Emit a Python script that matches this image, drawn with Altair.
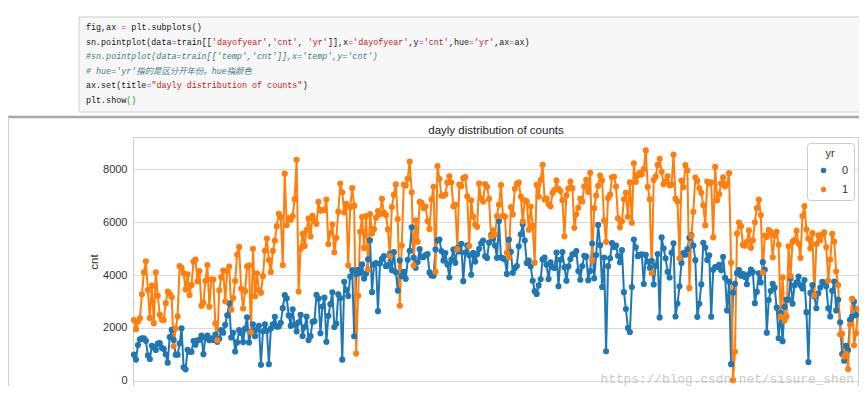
import altair as alt
import pandas as pd

# ---------------- data (daily counts) ----------------
cnt_yr0 = [
    # Jan
    985, 801, 1349, 1562, 1600, 1606, 1510, 959, 822, 1321, 1263, 1162, 1406, 1421, 1248, 1204,
    1000, 683, 1650, 1927, 1543, 981, 986, 1416, 1985, 506, 431, 1167, 1098, 1096, 1501,
    # Feb
    1360, 1526, 1550, 1708, 1005, 1623, 1712, 1530, 1605, 1538, 1746, 1472, 1589, 1913, 1815,
    2115, 2475, 2927, 1635, 1812, 1107, 1450, 1917, 1807, 1461, 1969, 2402, 1446,
    # Mar
    1851, 2134, 1685, 1944, 2077, 605, 1872, 2133, 1891, 623, 1977, 2132, 2417, 2046, 2056, 2192,
    2744, 3239, 3117, 2471, 2077, 2703, 2121, 1865, 2210, 2496, 1693, 2028, 2425, 1536, 1685,
    # Apr
    2227, 2252, 3249, 3115, 1795, 2808, 3141, 1471, 2455, 2895, 3348, 2034, 2162, 3267, 3126,
    795, 3744, 3429, 3204, 3944, 4189, 1683, 4036, 4191, 4073, 4400, 3872, 4058, 4595, 5312,
    # May
    3351, 4401, 4451, 2633, 4433, 4608, 4714, 4333, 4362, 4803, 4182, 4864, 4105, 3409, 4553,
    3958, 4123, 3855, 4575, 4917, 5805, 4660, 4274, 4492, 4978, 4677, 4679, 4758, 4788, 4098, 3982,
    # Jun
    3974, 4968, 5312, 5342, 4906, 4548, 4833, 4401, 3915, 4586, 4966, 4460, 5020, 4891, 5180,
    3767, 4844, 5119, 4744, 4010, 4835, 4507, 4790, 4991, 5202, 5305, 4708, 4648, 5225, 5515,
    # Jul
    5362, 5119, 4649, 6043, 4665, 4629, 4592, 4040, 5336, 4881, 4086, 4258, 4342, 5084, 5538,
    5923, 5302, 4458, 4541, 4332, 3784, 3387, 3285, 3606, 3840, 4590, 4656, 4390, 3846, 4475, 4302,
    # Aug
    4266, 4845, 3574, 4576, 4866, 4294, 3785, 4326, 4602, 4780, 4792, 4905, 4150, 3820, 4338,
    4725, 4694, 3805, 4153, 5191, 3873, 4758, 5895, 5130, 3542, 4661, 1115, 4334, 4634, 5204, 5058,
    # Sep
    5115, 4727, 4484, 4940, 3351, 2710, 1996, 1842, 3544, 5345, 5046, 4713, 4763, 4785, 3659,
    4760, 4511, 4274, 4539, 3641, 4352, 4795, 2395, 5423, 5010, 4630, 4120, 3907, 4839, 5202,
    # Oct
    2429, 2918, 3570, 4456, 4826, 4765, 4985, 5409, 5511, 5117, 4563, 2416, 2913, 3644, 5217,
    5041, 4570, 4748, 2424, 4195, 4304, 4308, 4381, 4187, 4687, 3894, 2659, 3747, 627, 3331, 3669,
    # Nov
    4068, 4186, 3974, 4046, 3926, 3649, 4035, 4205, 4109, 2933, 3368, 4067, 3717, 4486, 4195,
    1817, 3053, 3392, 3663, 3520, 2765, 1607, 2566, 1495, 2792, 3068, 3071, 3867, 2914, 3613,
    # Dec
    3727, 3940, 3614, 3485, 3811, 2594, 705, 3322, 3620, 3190, 2743, 3310, 3523, 3740, 3709,
    3577, 2739, 2431, 3403, 3750, 2660, 3068, 2209, 1011, 754, 1317, 1162, 2302, 2423, 2999, 2485,
]

cnt_yr1 = [
    # Jan
    2294, 1951, 2236, 2368, 3272, 4098, 4521, 3425, 2376, 3598, 2177, 4097, 3214, 2493, 2311,
    2298, 2935, 3376, 3292, 3163, 1301, 1977, 2432, 4339, 4270, 4075, 3456, 4023, 3243, 3624, 4509,
    # Feb
    4579, 3761, 4151, 2832, 2947, 3784, 4375, 2802, 3830, 3831, 2169, 1529, 3422, 3922, 4169,
    3005, 4154, 4318, 2689, 3129, 3777, 4773, 5062, 3487, 2732, 3389, 4322, 4363, 1834,
    # Mar
    4990, 3194, 4066, 3423, 3333, 3956, 4916, 5382, 4569, 4118, 4911, 5298, 5847, 6312, 6192,
    4378, 7836, 5892, 6153, 6093, 6230, 6871, 8362, 3372, 4996, 5558, 5102, 5698, 6133, 5459, 6235,
    # Apr
    6041, 5936, 6772, 6436, 6457, 6460, 6857, 5169, 5585, 5918, 4862, 5409, 6398, 7460, 7132,
    6370, 6691, 4367, 6565, 7290, 6624, 1027, 3214, 5633, 6196, 5026, 6233, 4220, 6304, 5572,
    # May
    5740, 6169, 6421, 6296, 6883, 6359, 6273, 5728, 4717, 6572, 7030, 7429, 6118, 2843, 5115,
    7424, 7384, 7639, 8294, 7129, 4359, 6073, 5260, 6770, 6734, 6536, 6591, 6043, 5743, 6855, 7338,
    # Jun
    4127, 8120, 7641, 6998, 7001, 7055, 7494, 7736, 7498, 6598, 6664, 4972, 7421, 7363, 7665,
    7702, 6978, 5099, 6825, 6211, 5905, 5823, 7458, 6891, 6779, 7442, 7335, 6879, 5463, 5687,
    # Jul
    5531, 6227, 6660, 7403, 6241, 6207, 4840, 4672, 6569, 6290, 7264, 7446, 7499, 6969, 6031,
    6830, 6786, 5713, 6591, 5870, 4459, 7410, 6966, 7592, 8173, 6861, 6904, 6685, 6597, 7105, 7216,
    # Aug
    7580, 7261, 7175, 6824, 5464, 7013, 7273, 7534, 7286, 5786, 6299, 6544, 6883, 6784, 7347,
    7605, 7148, 7865, 4549, 6530, 7006, 7375, 7765, 7582, 6053, 5255, 6917, 7040, 7697, 7713, 7350,
    # Sep
    6140, 5810, 6034, 6864, 7112, 6203, 7504, 5976, 8227, 7525, 7767, 7870, 7804, 8009, 8714,
    7333, 6869, 4073, 7591, 7720, 8167, 8395, 7907, 7436, 7538, 7733, 7393, 7415, 8555, 6889,
    # Oct
    6778, 4639, 7572, 7328, 8156, 7965, 3510, 5478, 6392, 7691, 7570, 7282, 7109, 6639, 5875,
    7534, 7461, 7509, 5424, 8090, 6824, 7058, 7466, 7693, 7359, 7444, 7852, 4459, 22, 1096, 5566,
    # Nov
    5986, 5847, 5138, 5107, 5259, 5686, 5035, 5315, 5992, 6536, 6852, 6269, 4094, 5495, 5445,
    5698, 5629, 4669, 5499, 5634, 5146, 2425, 3910, 2277, 2424, 5087, 3959, 5260, 5323, 5668,
    # Dec
    5191, 4649, 6234, 6606, 5729, 5375, 5008, 5582, 3228, 5170, 5501, 5319, 5532, 5611, 5047,
    3786, 4585, 5557, 5267, 4128, 3623, 1749, 1787, 920, 1013, 441, 2114, 3095, 1341, 1796, 2729,
]

hue_levels = ["0", "1"]
hue_colors = ["#1f77b4", "#ff7f0e"]
y_ticks = [0, 2000, 4000, 6000, 8000]
chart_title = "dayly distribution of counts"
watermark = "https://blog.csdn.net/sisure_shen"

# notebook code cell shown above the figure: (text, kind) segments per line
code_lines = [
    [("fig,ax ", "k"), ("=", "op"), (" plt.subplots()", "k")],
    [("sn.pointplot(data", "k"), ("=", "op"), ("train[[", "k"), ("'dayofyear'", "s"), (",", "k"),
     ("'cnt'", "s"), (", ", "k"), ("'yr'", "s"), ("]],x", "k"), ("=", "op"), ("'dayofyear'", "s"),
     (",y", "k"), ("=", "op"), ("'cnt'", "s"), (",hue", "k"), ("=", "op"), ("'yr'", "s"),
     (",ax", "k"), ("=", "op"), ("ax)", "k")],
    [("#sn.pointplot(data=train[['temp','cnt']],x='temp',y='cnt')", "c")],
    [("# hue='yr'指的是区分开年份。hue指颜色", "c")],
    [("ax.set(title", "k"), ("=", "op"), ('"dayly distribution of counts"', "s"), (")", "k")],
    [("plt.show", "k"), ("()", "br")],
]
kind_colors = {"k": "#111111", "op": "#aa22ff", "s": "#ba2121", "c": "#408080", "br": "#00aa00"}

# ---------------- geometry ----------------
W, H = 726, 249
code_x0, code_y0, line_h, char_w = -47, -110, 14.6, 5.04

rows = []
for d, v in enumerate(cnt_yr0, start=1):
    rows.append({"dayofyear": d, "cnt": v, "yr": "0"})
for d, v in enumerate(cnt_yr1, start=1):
    rows.append({"dayofyear": d, "cnt": v, "yr": "1"})
df = pd.DataFrame(rows)

code_rows = []
for i, segs in enumerate(code_lines):
    col = 0
    for text, kind in segs:
        lead = len(text) - len(text.lstrip(" "))
        if text.strip():
            code_rows.append({"px": code_x0 + (col + lead) * char_w, "py": code_y0 + i * line_h,
                              "t": text.strip(), "kind": kind})
        col += len(text)
code_df = pd.DataFrame(code_rows)

dummy = pd.DataFrame({"a": [0]})

# ---------------- layers ----------------
panel = alt.Chart(dummy).mark_rect(fill="#f7f7f7", stroke="#cfcfcf", strokeWidth=1).encode(
    x=alt.value(-54), x2=alt.value(740), y=alt.value(-120), y2=alt.value(-25))

code_font = "Liberation Mono, Noto Sans CJK SC, monospace"
code_layers = []
for kind, col in kind_colors.items():
    sub = code_df[code_df["kind"] == kind]
    if len(sub) == 0:
        continue
    code_layers.append(
        alt.Chart(sub).mark_text(
            align="left", baseline="middle", font=code_font, fontSize=8.4, color=col,
            fontStyle="italic" if kind == "c" else "normal").encode(
            x=alt.X("px:Q", scale=None, axis=None), y=alt.Y("py:Q", scale=None, axis=None),
            text="t:N"))

separator = alt.Chart(dummy).mark_rule(color="#a8a8a8", strokeWidth=2.5).encode(
    x=alt.value(-125), x2=alt.value(W), y=alt.value(-20))
out_left = alt.Chart(dummy).mark_rule(color="#d0d0d0", strokeWidth=1).encode(
    x=alt.value(-124.5), y=alt.value(-20), y2=alt.value(H))

frame_top = alt.Chart(dummy).mark_rule(color="#cccccc", strokeWidth=1).encode(
    x=alt.value(0), x2=alt.value(W), y=alt.value(0.5))
frame_left = alt.Chart(dummy).mark_rule(color="#cccccc", strokeWidth=1).encode(
    x=alt.value(0.5), y=alt.value(0), y2=alt.value(H))
frame_right = alt.Chart(dummy).mark_rule(color="#cccccc", strokeWidth=1).encode(
    x=alt.value(W - 0.5), y=alt.value(0), y2=alt.value(H))

title_mark = alt.Chart(dummy).mark_text(
    text=chart_title, align="center", baseline="alphabetic", font="Liberation Sans",
    fontSize=11.5, color="#222222").encode(x=alt.value(W / 2), y=alt.value(-3))

x_enc = alt.X("dayofyear:Q", scale=alt.Scale(domain=[0.5, 366.5], nice=False, zero=False), axis=None)
y_enc = alt.Y("cnt:Q", scale=alt.Scale(domain=[-200, 9222], nice=False, zero=False),
              axis=alt.Axis(values=y_ticks, format="d", title="cnt", grid=True, gridColor="#d9d9d9",
                            ticks=False, domain=False, labelPadding=6, titlePadding=3,
                            labelFont="Liberation Sans", labelFontSize=11, labelColor="#333333",
                            titleFont="Liberation Sans", titleFontSize=11.5,
                            titleFontWeight="normal", titleColor="#333333"))
color_scale = alt.Scale(domain=hue_levels, range=hue_colors)

line_layers = [
    alt.Chart(df).transform_filter(alt.datum.yr == lvl).mark_line(strokeWidth=2, color=c).encode(
        x=x_enc, y=y_enc)
    for lvl, c in zip(hue_levels, hue_colors)
]
points = alt.Chart(df).mark_point(filled=True, size=38, opacity=1).encode(
    x=x_enc, y=y_enc,
    color=alt.Color("yr:N", scale=color_scale,
                    legend=alt.Legend(title="yr", orient="none", legendX=674, legendY=6,
                                      symbolType="circle", symbolSize=30, symbolOffset=6,
                                      labelOffset=13, padding=5, rowPadding=7, titlePadding=6,
                                      titleAnchor="middle", titleAlign="center",
                                      fillColor="white", strokeColor="#cccccc", cornerRadius=3,
                                      titleFont="Liberation Sans", titleFontSize=11,
                                      titleFontWeight="normal", titleColor="#333333",
                                      labelFont="Liberation Sans", labelFontSize=11,
                                      labelColor="#333333")))

mark_wm = alt.Chart(dummy).mark_text(
    text=watermark, align="right", baseline="middle", font="Liberation Mono",
    fontSize=12.8, color="#bdbdbd", opacity=0.8).encode(x=alt.value(721), y=alt.value(242))

chart = alt.layer(
    panel, *code_layers, separator, out_left,
    frame_top, frame_left, frame_right, title_mark, *line_layers, points, mark_wm
).properties(
    width=W, height=H,
    autosize=alt.AutoSizeParams(type="none"),
    padding={"left": 125, "top": 129, "right": 0, "bottom": 0},
).configure_view(stroke=None).configure(background="white")

chart.save("out.html", embed_options={"renderer": "svg", "actions": False})
